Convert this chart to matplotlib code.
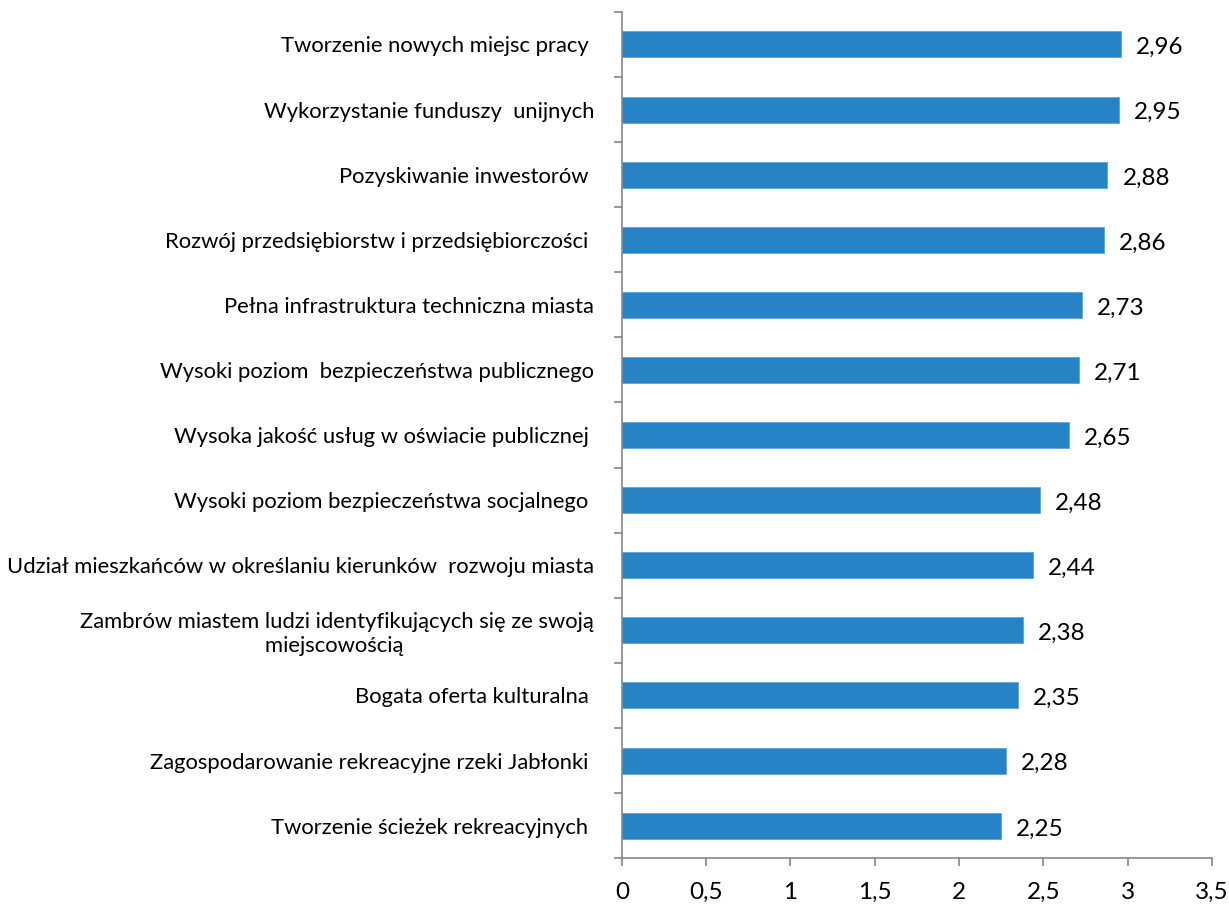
import matplotlib.pyplot as plt
import numpy as np

# --- Data ---
CATEGORIES = [
    'Tworzenie nowych miejsc pracy ',
    'Wykorzystanie funduszy  unijnych',
    'Pozyskiwanie inwestorów ',
    'Rozwój przedsiębiorstw i przedsiębiorczości ',
    'Pełna infrastruktura techniczna miasta',
    'Wysoki poziom  bezpieczeństwa publicznego',
    'Wysoka jakość usług w oświacie publicznej ',
    'Wysoki poziom bezpieczeństwa socjalnego ',
    'Udział mieszkańców w określaniu kierunków  rozwoju miasta',
    'Zambrów miastem ludzi identyfikujących się ze swoją\nmiejscowością ',
    'Bogata oferta kulturalna ',
    'Zagospodarowanie rekreacyjne rzeki Jabłonki ',
    'Tworzenie ścieżek rekreacyjnych ',
]
VALUES = [2.96, 2.95, 2.88, 2.86, 2.73, 2.71, 2.65, 2.48, 2.44, 2.38, 2.35, 2.28, 2.25]
X_TICKS = [0, 0.5, 1, 1.5, 2, 2.5, 3, 3.5]

BAR_COLOR = '#2683c6'
AXIS_COLOR = '#868686'
FONT = ['Lato', 'DejaVu Sans']

plt.rcParams['font.family'] = FONT

fig = plt.figure(figsize=(12.29, 9.13), dpi=100)
ax = fig.add_axes([0.506, 0.060, 0.480, 0.927])

n = len(CATEGORIES)
y = np.arange(n)
ax.barh(y, VALUES, height=0.4, color=BAR_COLOR, edgecolor='#5aa6dc', linewidth=0.6, zorder=2)

# value labels to the right of each bar
for yi, v in zip(y, VALUES):
    ax.text(v + 0.09, yi + 0.05, f'{v:.2f}'.replace('.', ','), va='center', ha='left',
            fontsize=17.5, color='black')

ax.set_xlim(0, 3.5)
ax.set_ylim(n - 0.5, -0.5)

ax.set_xticks(X_TICKS)
ax.set_xticklabels([f'{t:g}'.replace('.', ',') for t in X_TICKS], fontsize=17.5)

# boundary ticks as majors, category names on minor ticks
ax.set_yticks(np.arange(n + 1) - 0.5)
ax.set_yticklabels([])
ax.set_yticks(y, minor=True)
ax.set_yticklabels(CATEGORIES, minor=True, fontsize=15.8, ha='right', multialignment='center',
                   linespacing=1.25)

ax.tick_params(axis='y', which='major', direction='out', length=6, width=1.2, color=AXIS_COLOR)
ax.tick_params(axis='y', which='minor', length=0, pad=20)
ax.tick_params(axis='x', direction='out', length=6, width=1.2, color=AXIS_COLOR, pad=11)

for side in ('top', 'right'):
    ax.spines[side].set_visible(False)
for side in ('left', 'bottom'):
    ax.spines[side].set_color(AXIS_COLOR)
    ax.spines[side].set_linewidth(1.2)

fig.savefig('out.png', dpi=100)
